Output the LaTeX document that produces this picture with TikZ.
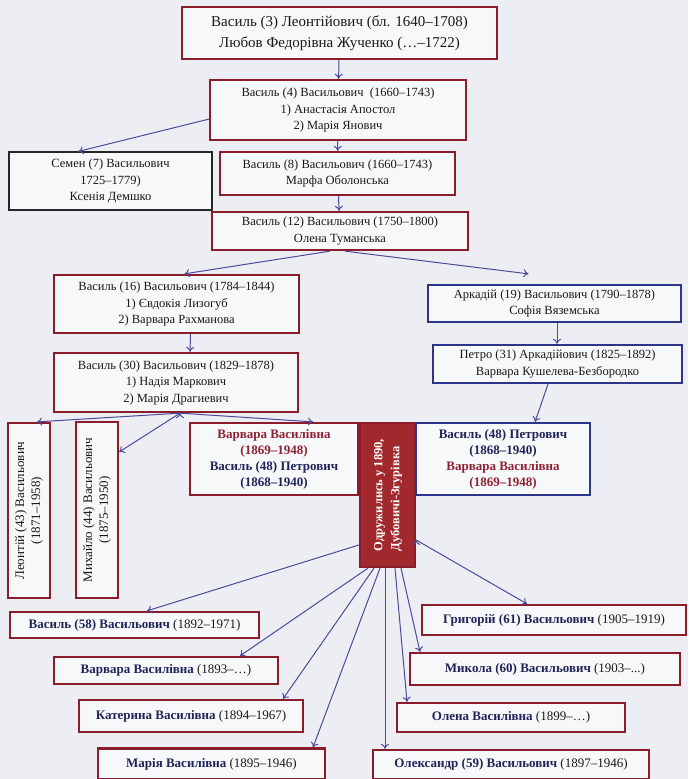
\documentclass[tikz,border=0pt]{standalone}
\usepackage{fontspec}
\setmainfont{Liberation Serif}
\usepackage{graphicx}
\usetikzlibrary{arrows.meta,positioning}

\definecolor{bg}{HTML}{ECEEF3}
\definecolor{boxfill}{HTML}{F7F8FA}
\definecolor{redline}{HTML}{8A1C2B}
\definecolor{blueline}{HTML}{2C3588}
\definecolor{arrowc}{HTML}{4B4A9C}
\definecolor{wedred}{HTML}{A1282C}
\definecolor{navy}{HTML}{1F2558}
\definecolor{redtext}{HTML}{8E2233}

\begin{document}
\begin{tikzpicture}
		[x=1pt,y=-1pt,
		red node/.style={shape=rectangle,draw=redline,line width=2.3pt,fill=boxfill,inner sep=1pt,align=center,text=black!90,font=\fontsize{12.5}{16.5}\selectfont},
		blue node/.style={red node,draw=blueline},
		child node/.style={red node,font=\fontsize{13}{15}\selectfont},
		pair node/.style={red node,font=\fontsize{13}{16}\selectfont\bfseries},
		link/.style={-{To[length=5pt,width=8pt]},draw=arrowc,line width=1pt}
		]
		
		\fill[bg] (0,0) rectangle (688,779);
		\useasboundingbox (0,0) rectangle (688,779);
		
		\node [red node,minimum width=315pt,minimum height=52pt,font=\fontsize{15}{21}\selectfont] (3) at (339.5,33)
			{Василь (3) Леонтійович (бл. 1640–1708)\\Любов Федорівна Жученко (…–1722)};
		\node [red node,minimum width=256pt,minimum height=60pt] (4) at (338,110)
			{Василь (4) Васильович\ \ (1660–1743)\\1) Анастасія Апостол\\2) Марія Янович};
		\node [red node,draw=black!85,line width=1.3pt,minimum width=203pt,minimum height=58pt] (7) at (110.5,181)
			{Семен (7) Васильович\\1725–1779)\\Ксенія Демшко};
		\node [red node,minimum width=235pt,minimum height=43pt] (8) at (337.5,173.5)
			{Василь (8) Васильович (1660–1743)\\Марфа Оболонська};
		\node [red node,minimum width=256pt,minimum height=38pt] (12) at (340,231)
			{Василь (12) Васильович (1750–1800)\\Олена Туманська};
		\node [red node,minimum width=245pt,minimum height=58pt] (16) at (176.5,304)
			{Василь (16) Васильович (1784–1844)\\1) Євдокія Лизогуб\\2) Варвара Рахманова};
		\node [red node,minimum width=244pt,minimum height=59pt] (30) at (176,382.5)
			{Василь (30) Васильович (1829–1878)\\1) Надія Маркович\\2) Марія Драгиевич};
		\node [blue node,minimum width=253pt,minimum height=37pt] (19) at (554.5,303.5)
			{Аркадій (19) Васильович (1790–1878)\\Софія Вяземська};
		\node [blue node,minimum width=249pt,minimum height=38pt] (31) at (557.5,364)
			{Петро (31) Аркадійович (1825–1892)\\Варвара Кушелева-Безбородко};
		
		\node [red node,font=\fontsize{13}{16}\selectfont,minimum width=42pt,minimum height=175pt] (43) at (29,510.5)
			{\rotatebox{90}{\begin{tabular}{@{}c@{}}Леонтій (43) Васильович\\(1871–1958)\end{tabular}}};
		\node [red node,font=\fontsize{13}{16}\selectfont,minimum width=42pt,minimum height=176pt] (44) at (97,510)
			{\rotatebox{90}{\begin{tabular}{@{}c@{}}Михайло (44) Васильович\\(1875–1950)\end{tabular}}};
		
		\node [pair node,minimum width=168pt,minimum height=72pt] (48a) at (274,459)
			{\textcolor{redtext}{Варвара Василівна}\\\textcolor{redtext}{(1869–1948)}\\\textcolor{navy}{Василь (48) Петрович}\\\textcolor{navy}{(1868–1940)}};
		\node [red node,fill=wedred,draw=redline,text=white,font=\fontsize{12.5}{17}\selectfont\bfseries,minimum width=55pt,minimum height=144pt] (wed) at (387.5,495)
			{\rotatebox{90}{\begin{tabular}{@{}l@{}}Одружились у 1890,\\Дубовичі-Згурівка\end{tabular}}};
		\node [pair node,draw=blueline,minimum width=174pt,minimum height=72pt] (48b) at (503,459)
			{\textcolor{navy}{Василь (48) Петрович}\\\textcolor{navy}{(1868–1940)}\\\textcolor{redtext}{Варвара Василівна}\\\textcolor{redtext}{(1869–1948)}};
		
		\node [child node,minimum width=249pt,minimum height=26pt] (58) at (134.5,625)
			{\textcolor{navy}{\textbf{Василь (58) Васильович}} (1892–1971)};
		\node [child node,minimum width=224pt,minimum height=27pt] (d93) at (166,670.5)
			{\textcolor{navy}{\textbf{Варвара Василівна}} (1893–…)};
		\node [child node,minimum width=224pt,minimum height=32pt] (d94) at (191,716)
			{\textcolor{navy}{\textbf{Катерина Василівна}} (1894–1967)};
		\node [child node,minimum width=227pt,minimum height=31pt] (d95) at (211.5,764)
			{\textcolor{navy}{\textbf{Марія Василівна}} (1895–1946)};
		\node [child node,minimum width=264pt,minimum height=30pt] (61) at (554,620)
			{\textcolor{navy}{\textbf{Григорій (61) Васильович}} (1905–1919)};
		\node [child node,minimum width=270pt,minimum height=32pt] (60) at (545,669)
			{\textcolor{navy}{\textbf{Микола (60) Васильович}} (1903–...)};
		\node [child node,minimum width=228pt,minimum height=29pt] (d99) at (511,717.5)
			{\textcolor{navy}{\textbf{Олена Василівна}} (1899–…)};
		\node [child node,minimum width=276pt,minimum height=29pt] (59) at (511,764.5)
			{\textcolor{navy}{\textbf{Олександр (59) Васильович}} (1897–1946)};
		
		\path[link]
		(3) edge (4)
		(4) edge (8)
		(8) edge (12)
		([yshift=22pt]4.south west) edge ([xshift=-32pt]7.north)
		([xshift=-10pt]12.south) edge ([xshift=8pt]16.north)
		([xshift=5pt]12.south) edge ([xshift=-26pt,yshift=10pt]19.north)
		([xshift=14pt]16.south) edge ([xshift=14pt]30.north)
		([xshift=2.5pt]19.south) edge ([xshift=-0.5pt]31.north)
		([xshift=-9.5pt]31.south) edge ([xshift=32pt]48b.north)
		([xshift=4pt]30.south) edge ([xshift=8pt]43.north)
		([xshift=4pt]30.south) edge ([yshift=58pt]44.east)
		([xshift=4pt]30.south) edge ([xshift=39pt]48a.north)
		;
		
		\path[link]
		([yshift=-50pt]wed.west) edge ([xshift=12.5pt]58.north)
		([xshift=-19.5pt]wed.south) edge ([xshift=74pt]d93.north)
		([xshift=-13.5pt]wed.south) edge ([xshift=92pt]d94.north)
		([xshift=-7.5pt]wed.south) edge ([xshift=101.5pt]d95.north)
		([xshift=-2.5pt]wed.south) edge ([xshift=-126pt]59.north)
		([xshift=7.5pt]wed.south) edge ([xshift=-104pt]d99.north)
		([xshift=13.5pt]wed.south) edge ([xshift=-125pt]60.north)
		([yshift=-45pt]wed.east) edge ([xshift=-27pt]61.north)
		;
		
\end{tikzpicture}
\end{document}
